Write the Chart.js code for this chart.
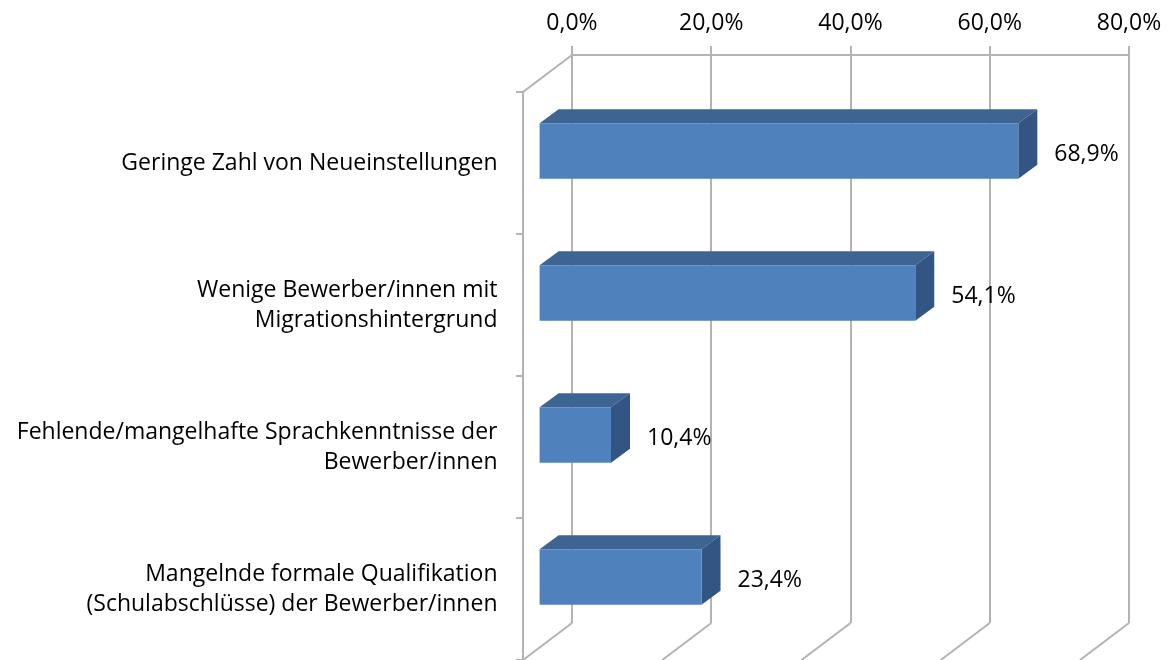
<!DOCTYPE html>
<html>
<head>
<meta charset="utf-8">
<script src="https://cdn.jsdelivr.net/npm/chart.js@4.4.1/dist/chart.umd.min.js"></script>
<style>
  html, body { margin: 0; padding: 0; background: #fff; }
  #wrap { width: 1168px; height: 660px; }
</style>
</head>
<body>
<div id="wrap"><canvas id="chart"></canvas></div>
<script>
const categories = [
  'Geringe Zahl von Neueinstellungen',
  ['Wenige Bewerber/innen mit', 'Migrationshintergrund'],
  ['Fehlende/mangelhafte Sprachkenntnisse der', 'Bewerber/innen'],
  ['Mangelnde formale Qualifikation', '(Schulabschlüsse) der Bewerber/innen']
];
const shares = [68.9, 54.1, 10.4, 23.4];
const axisMin = 0;
const axisMax = 80;
const axisStep = 20;

// fake 3D: front plane is shifted against the back wall
const WALL_DX = -49, WALL_DY = 37;
const BAR_DX = -33.4, BAR_DY = 25;
const DEPTH_X = 19, DEPTH_Y = 14;
const GRID = '#b3b3b3';
const FONT = 'Open Sans';

const fmt = v => v.toFixed(1).replace('.', ',') + '%';

const fake3d = {
  id: 'fake3d',
  beforeDatasetsDraw(chart) {
    const { ctx, chartArea: a, scales } = chart;
    const x = scales.x;

    // side wall and floor lines
    ctx.save();
    ctx.strokeStyle = GRID;
    ctx.lineWidth = 2;
    ctx.beginPath();
    ctx.moveTo(a.left, a.top);
    ctx.lineTo(a.left + WALL_DX, a.top + WALL_DY);
    ctx.lineTo(a.left + WALL_DX, a.bottom + WALL_DY);
    x.ticks.forEach(t => {
      const px = x.getPixelForValue(t.value);
      ctx.moveTo(px, a.bottom);
      ctx.lineTo(px + WALL_DX, a.bottom + WALL_DY);
    });
    const band = (a.bottom - a.top) / categories.length;
    for (let i = 0; i <= categories.length; i++) {
      const py = a.top + band * i + WALL_DY;
      ctx.moveTo(a.left + WALL_DX - 7, py);
      ctx.lineTo(a.left + WALL_DX, py);
    }
    ctx.stroke();
    ctx.restore();

    // top and right faces of the bars, then the library draws the front
    ctx.save();
    ctx.translate(BAR_DX, BAR_DY);
    chart.getDatasetMeta(0).data.forEach(el => {
      const p = el.getProps(['x', 'y', 'base', 'height'], true);
      const yt = p.y - p.height / 2, yb = p.y + p.height / 2;
      ctx.fillStyle = '#3e6592';
      ctx.beginPath();
      ctx.moveTo(p.base, yt);
      ctx.lineTo(p.x, yt);
      ctx.lineTo(p.x + DEPTH_X, yt - DEPTH_Y);
      ctx.lineTo(p.base + DEPTH_X, yt - DEPTH_Y);
      ctx.closePath();
      ctx.fill();
      ctx.fillStyle = '#325583';
      ctx.beginPath();
      ctx.moveTo(p.x, yt);
      ctx.lineTo(p.x + DEPTH_X, yt - DEPTH_Y);
      ctx.lineTo(p.x + DEPTH_X, yb - DEPTH_Y);
      ctx.lineTo(p.x, yb);
      ctx.closePath();
      ctx.fill();
    });
  },
  afterDatasetsDraw(chart) {
    const ctx = chart.ctx;
    ctx.restore();
    ctx.save();
    ctx.fillStyle = '#000';
    ctx.font = '23px "' + FONT + '"';
    ctx.textAlign = 'left';
    ctx.textBaseline = 'middle';
    chart.getDatasetMeta(0).data.forEach((el, i) => {
      ctx.fillText(fmt(shares[i]), el.x + BAR_DX + 36, el.y + BAR_DY + 3);
    });
    ctx.restore();
  }
};

new Chart(document.getElementById('chart'), {
  type: 'bar',
  data: {
    labels: categories,
    datasets: [{
      data: shares,
      backgroundColor: '#4f81bd',
      barPercentage: 0.39,
      categoryPercentage: 1,
      clip: false
    }]
  },
  options: {
    indexAxis: 'y',
    responsive: true,
    maintainAspectRatio: false,
    animation: false,
    layout: { padding: { left: 0, top: 0, right: 39, bottom: 37 } },
    plugins: { legend: { display: false }, tooltip: { enabled: false } },
    scales: {
      x: {
        position: 'top',
        min: axisMin,
        max: axisMax,
        afterFit: s => { s.height = 55; s.paddingLeft = 0; s.paddingRight = 0; },
        grid: { color: GRID, lineWidth: 2, tickLength: 9, tickColor: GRID },
        border: { color: GRID, width: 2 },
        ticks: {
          stepSize: axisStep,
          padding: 9,
          color: '#000',
          font: { family: FONT, size: 23 },
          callback: v => fmt(v)
        }
      },
      y: {
        afterFit: s => { s.width = 572; s.paddingTop = 0; s.paddingBottom = 0; },
        // invisible tick marks keep the labels away from the wall
        grid: { drawOnChartArea: false, tickLength: 74.5, tickColor: 'rgba(0,0,0,0)' },
        border: { display: false },
        ticks: {
          padding: 0,
          labelOffset: WALL_DY,
          color: '#000',
          font: { family: FONT, size: 23, lineHeight: 30 / 23 }
        }
      }
    }
  },
  plugins: [fake3d]
});
</script>
</body>
</html>
